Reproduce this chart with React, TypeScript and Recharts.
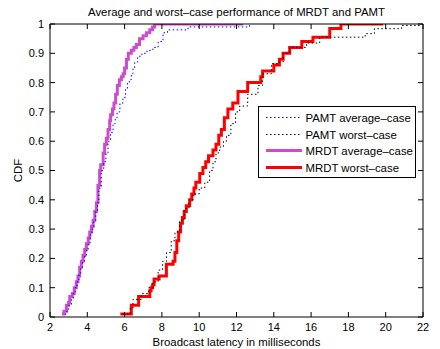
import React from 'react';
import { LineChart, Line, XAxis, YAxis, Legend, Label } from 'recharts';

const xTicks = [2, 4, 6, 8, 10, 12, 14, 16, 18, 20, 22];
const yTicks = [0, 0.1, 0.2, 0.3, 0.4, 0.5, 0.6, 0.7, 0.8, 0.9, 1];
const yTickLabels = ['0', '0.1', '0.2', '0.3', '0.4', '0.5', '0.6', '0.7', '0.8', '0.9', '1'];

const titleText = 'Average and worst\u2013case performance of MRDT and PAMT';
const xLabelText = 'Broadcast latency in milliseconds';
const yLabelText = 'CDF';

const seriesNames = ['PAMT average\u2013case', 'PAMT worst\u2013case', 'MRDT average\u2013case', 'MRDT worst\u2013case'];

// PAMT average-case (blue dotted)
const pamtAvgX = [2.8, 2.9, 3.0, 3.15, 3.25, 3.35, 3.45, 3.55, 3.65, 3.75, 3.85, 3.95, 4.05, 4.15, 4.25, 4.35, 4.45, 4.55, 4.62, 4.75, 4.88, 5.0, 5.11, 5.25, 5.38, 5.5, 5.6, 5.75, 5.91, 6.05, 6.15, 6.25, 6.36, 6.45, 6.54, 6.7, 6.93, 7.2, 7.52, 7.8, 8.06, 8.3, 9.4, 12.7];
const pamtAvgY = [0.01, 0.02, 0.04, 0.06, 0.08, 0.1, 0.12, 0.15, 0.17, 0.19, 0.21, 0.23, 0.25, 0.28, 0.3, 0.33, 0.36, 0.39, 0.44, 0.5, 0.53, 0.56, 0.6, 0.63, 0.66, 0.68, 0.7, 0.73, 0.75, 0.78, 0.8, 0.81, 0.83, 0.85, 0.87, 0.89, 0.9, 0.91, 0.92, 0.94, 0.97, 0.98, 0.99, 1.0];

// PAMT worst-case (black dotted)
const pamtWorstX = [5.9, 6.3, 6.45, 6.9, 7.3, 7.52, 7.8, 8.03, 8.25, 8.5, 8.7, 8.95, 9.2, 9.45, 9.67, 10.0, 10.3, 10.56, 10.74, 10.9, 11.1, 11.3, 11.46, 11.7, 11.95, 12.17, 12.6, 13.15, 13.4, 13.87, 14.2, 14.5, 14.85, 15.75, 16.46, 18.9, 19.4, 20.85, 21.9];
const pamtWorstY = [0.01, 0.03, 0.06, 0.08, 0.1, 0.12, 0.16, 0.19, 0.22, 0.26, 0.29, 0.33, 0.37, 0.4, 0.42, 0.44, 0.46, 0.5, 0.53, 0.56, 0.58, 0.6, 0.62, 0.66, 0.7, 0.72, 0.76, 0.79, 0.83, 0.865, 0.87, 0.9, 0.92, 0.935, 0.955, 0.967, 0.984, 0.995, 1.0];

// MRDT average-case (magenta solid)
const mrdtAvgX = [2.64, 2.75, 2.88, 3.0, 3.06, 3.2, 3.3, 3.41, 3.5, 3.59, 3.68, 3.77, 3.86, 3.95, 4.05, 4.13, 4.22, 4.31, 4.4, 4.49, 4.57, 4.66, 4.72, 4.85, 4.93, 5.02, 5.11, 5.2, 5.25, 5.35, 5.43, 5.52, 5.61, 5.72, 5.83, 5.92, 6.0, 6.1, 6.2, 6.36, 6.5, 6.63, 6.8, 6.99, 7.17, 7.35, 7.5, 7.61, 12.35];
const mrdtAvgY = [0.01, 0.02, 0.04, 0.05, 0.07, 0.08, 0.1, 0.12, 0.14, 0.17, 0.19, 0.21, 0.23, 0.25, 0.27, 0.29, 0.31, 0.33, 0.36, 0.39, 0.45, 0.5, 0.52, 0.56, 0.59, 0.61, 0.64, 0.67, 0.69, 0.71, 0.73, 0.76, 0.79, 0.81, 0.82, 0.83, 0.85, 0.88, 0.9, 0.91, 0.92, 0.93, 0.95, 0.96, 0.97, 0.98, 0.99, 1.0, 1.0];

// MRDT worst-case (red solid)
const mrdtWorstX = [5.77, 6.36, 6.75, 7.35, 7.42, 7.5, 7.58, 7.85, 8.24, 8.6, 8.7, 8.8, 8.9, 9.0, 9.1, 9.2, 9.31, 9.49, 9.6, 9.72, 9.82, 10.03, 10.2, 10.35, 10.5, 10.74, 10.9, 11.05, 11.19, 11.35, 11.54, 11.8, 12.08, 12.6, 13.3, 13.4, 14.0, 14.3, 14.5, 14.85, 15.5, 16.1, 17.0, 17.6, 19.86];
const mrdtWorstY = [0.01, 0.04, 0.07, 0.09, 0.1, 0.11, 0.13, 0.14, 0.18, 0.19, 0.22, 0.26, 0.29, 0.32, 0.34, 0.36, 0.38, 0.4, 0.42, 0.44, 0.46, 0.49, 0.51, 0.53, 0.55, 0.57, 0.59, 0.62, 0.64, 0.68, 0.71, 0.73, 0.77, 0.8, 0.82, 0.84, 0.86, 0.88, 0.9, 0.92, 0.94, 0.955, 0.985, 1.0, 1.0];

const toPoints = (xs: number[], ys: number[]) => xs.map((x, i) => ({ x, y: ys[i] }));

const styles: Record<string, { color: string; width: number; dash?: string }> = {
  [seriesNames[0]]: { color: '#0000ff', width: 1, dash: '1.5 2.5' },
  [seriesNames[1]]: { color: '#000000', width: 1, dash: '1.5 2.5' },
  [seriesNames[2]]: { color: '#cc4ccc', width: 3 },
  [seriesNames[3]]: { color: '#ff0000', width: 3 },
};

const FONT = '"Liberation Sans", Arial, Helvetica, sans-serif';

const renderLegend = (props: any) => {
  const payload: any[] = props.payload || [];
  const ordered = seriesNames.map((n) => payload.find((p) => p.value === n) || { value: n });
  return (
    <svg width={158} height={72} style={{ display: 'block' }}>
      <rect x={0.5} y={0.5} width={157} height={71} fill="#fff" stroke="#000" strokeWidth={1} />
      {ordered.map((p, i) => {
        const st = styles[p.value];
        const yy = Math.round(11 + i * 16.6) + 0.5;
        return (
          <g key={p.value}>
            <line x1={8} x2={44} y1={yy} y2={yy} stroke={st.color} strokeWidth={st.width} strokeDasharray={st.dash} />
            <text x={47.5} y={yy} dy="0.36em" fontSize={11.4} fontFamily={FONT} fill="#000">
              {p.value}
            </text>
          </g>
        );
      })}
    </svg>
  );
};

export default function App() {
  const series = [
    { name: seriesNames[2], data: toPoints(mrdtAvgX, mrdtAvgY) },
    { name: seriesNames[3], data: toPoints(mrdtWorstX, mrdtWorstY) },
    { name: seriesNames[0], data: toPoints(pamtAvgX, pamtAvgY) },
    { name: seriesNames[1], data: toPoints(pamtWorstX, pamtWorstY) },
  ];
  const tickStyle = { fontSize: 11, fontFamily: FONT, fill: '#000' };
  return (
    <div style={{ position: 'absolute', left: 0, top: 0, background: '#fff' }}>
      <LineChart width={440} height={349} margin={{ top: 0, right: 0, bottom: 0, left: 0 }}>
        <XAxis
          xAxisId="bottom"
          dataKey="x"
          type="number"
          domain={[2, 22]}
          ticks={xTicks}
          allowDataOverflow
          height={32}
          tickSize={-5}
          tickMargin={11}
          stroke="#000"
          tick={tickStyle}
          tickLine={{ stroke: '#000' }}
          axisLine={{ stroke: '#000' }}
          interval={0}
        >
          <Label value={xLabelText} position="insideBottom" offset={3} style={{ fontSize: 11.4, fontFamily: FONT, fill: '#000' }} />
        </XAxis>
        <XAxis
          xAxisId="top"
          orientation="top"
          dataKey="x"
          type="number"
          domain={[2, 22]}
          ticks={xTicks}
          allowDataOverflow
          height={24}
          tickSize={-5}
          tickFormatter={() => ''}
          stroke="#000"
          interval={0}
        >
          <Label value={titleText} position="center" style={{ fontSize: 11.4, fontFamily: FONT, fill: '#000' }} />
        </XAxis>
        <YAxis
          yAxisId="left"
          type="number"
          domain={[0, 1]}
          ticks={yTicks}
          allowDataOverflow
          width={50}
          tickSize={-5}
          tickMargin={11}
          stroke="#000"
          tick={tickStyle}
          tickFormatter={(v: number) => yTickLabels[yTicks.indexOf(v)] ?? String(v)}
          interval={0}
        >
          <Label value={yLabelText} angle={-90} position="insideLeft" offset={18} style={{ fontSize: 11.4, fontFamily: FONT, fill: '#000', textAnchor: 'middle' }} />
        </YAxis>
        <YAxis
          yAxisId="right"
          orientation="right"
          type="number"
          domain={[0, 1]}
          ticks={yTicks}
          allowDataOverflow
          width={17}
          tickSize={-5}
          tickFormatter={() => ''}
          stroke="#000"
          interval={0}
        />
        <Legend
          layout="vertical"
          align="center"
          verticalAlign="middle"
          width={158}
          height={72}
          wrapperStyle={{ left: 258, top: 106, width: 158, height: 72 }}
          content={renderLegend}
        />
        {series.map((s) => {
          const st = styles[s.name];
          return (
            <Line
              key={s.name}
              xAxisId="bottom"
              yAxisId="left"
              data={s.data}
              dataKey="y"
              name={s.name}
              type="stepAfter"
              stroke={st.color}
              strokeWidth={st.width}
              strokeDasharray={st.dash}
              dot={false}
              activeDot={false}
              isAnimationActive={false}
              strokeLinejoin="miter"
            />
          );
        })}
      </LineChart>
    </div>
  );
}
